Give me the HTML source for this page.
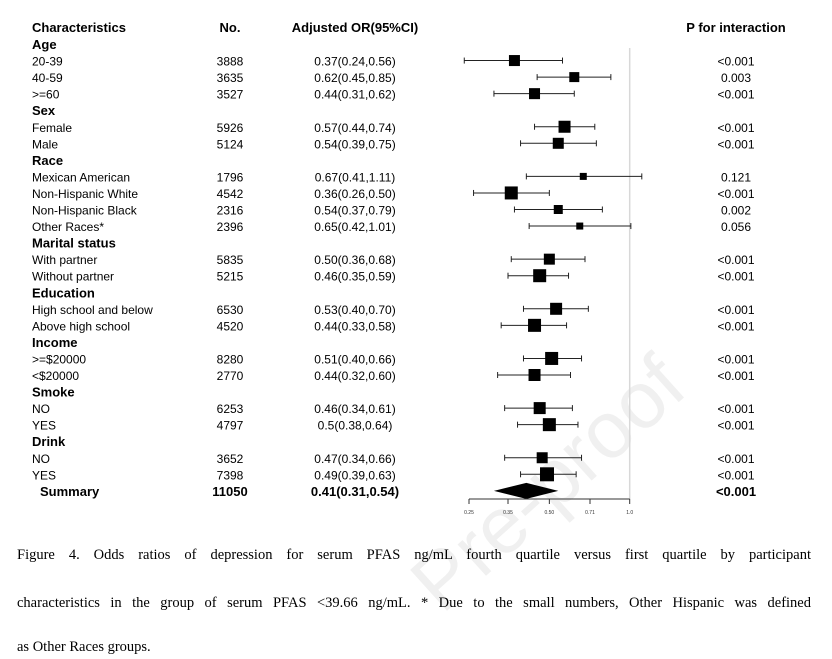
<!DOCTYPE html>
<html><head><meta charset="utf-8"><style>
html,body{margin:0;padding:0;background:#fff;overflow:hidden;}
#wrap{position:relative;width:832px;height:659px;overflow:hidden;}
svg{position:absolute;left:0;top:0;}
.cap{position:absolute;left:17px;width:794px;height:17px;line-height:17px;font-family:"Liberation Serif",serif;font-size:14.5px;color:#000;text-align:justify;text-align-last:justify;white-space:nowrap;overflow:hidden;}
</style></head><body>
<div id="wrap">
<svg id="chart" width="832" height="659" font-family="Liberation Sans, Arial, sans-serif">
  <text x="690" y="392" transform="rotate(-42 690 392)" text-anchor="end" font-size="80" fill="#f0f0f0">Pre-proof</text>
  <g id="hdr" font-weight="bold" font-size="13">
    <text x="32" y="32">Characteristics</text>
    <text x="230" y="32" text-anchor="middle">No.</text>
    <text x="355" y="32" text-anchor="middle">Adjusted OR(95%CI)</text>
    <text x="736" y="32" text-anchor="middle">P for interaction</text>
  </g>
  <line x1="629.7" y1="48" x2="629.7" y2="499" stroke="#d8d8d8" stroke-width="1.5"/>
  <g id="rows"></g>
  <g id="axis"></g>
</svg>
<div class="cap" style="top:547px">Figure 4. Odds ratios of depression for serum PFAS ng/mL fourth quartile versus first quartile by participant</div>
<div class="cap" style="top:595px">characteristics in the group of serum PFAS &lt;39.66 ng/mL. * Due to the small numbers, Other Hispanic was defined</div>
<div class="cap" style="top:639px;text-align-last:left">as Other Races groups.</div>
</div>
<script>
const labels = ["Age","20-39","40-59",">=60","Sex","Female","Male","Race","Mexican American","Non-Hispanic White","Non-Hispanic Black","Other Races*","Marital status","With partner","Without partner","Education","High school and below","Above high school","Income",">=$20000","<$20000","Smoke","NO","YES","Drink","NO","YES","Summary"];
const counts = [null,3888,3635,3527,null,5926,5124,null,1796,4542,2316,2396,null,5835,5215,null,6530,4520,null,8280,2770,null,6253,4797,null,3652,7398,11050];
const ors = [null,0.37,0.62,0.44,null,0.57,0.54,null,0.67,0.36,0.54,0.65,null,0.50,0.46,null,0.53,0.44,null,0.51,0.44,null,0.46,0.5,null,0.47,0.49,0.41];
const lows = [null,0.24,0.45,0.31,null,0.44,0.39,null,0.41,0.26,0.37,0.42,null,0.36,0.35,null,0.40,0.33,null,0.40,0.32,null,0.34,0.38,null,0.34,0.39,0.31];
const highs = [null,0.56,0.85,0.62,null,0.74,0.75,null,1.11,0.50,0.79,1.01,null,0.68,0.59,null,0.70,0.58,null,0.66,0.60,null,0.61,0.64,null,0.66,0.63,0.54];
const orText = [null,"0.37(0.24,0.56)","0.62(0.45,0.85)","0.44(0.31,0.62)",null,"0.57(0.44,0.74)","0.54(0.39,0.75)",null,"0.67(0.41,1.11)","0.36(0.26,0.50)","0.54(0.37,0.79)","0.65(0.42,1.01)",null,"0.50(0.36,0.68)","0.46(0.35,0.59)",null,"0.53(0.40,0.70)","0.44(0.33,0.58)",null,"0.51(0.40,0.66)","0.44(0.32,0.60)",null,"0.46(0.34,0.61)","0.5(0.38,0.64)",null,"0.47(0.34,0.66)","0.49(0.39,0.63)","0.41(0.31,0.54)"];
const pvals = [null,"<0.001","0.003","<0.001",null,"<0.001","<0.001",null,"0.121","<0.001","0.002","0.056",null,"<0.001","<0.001",null,"<0.001","<0.001",null,"<0.001","<0.001",null,"<0.001","<0.001",null,"<0.001","<0.001","<0.001"];
const weights = [null,11,10,11,null,12,11,null,7,13,9,7,null,11,13,null,12,13,null,13,12,null,12,13,null,11,14,null];
const tickValues = [0.25,0.35,0.50,0.71,1.0];
const tickLabels = ["0.25","0.35","0.50","0.71","1.0"];

const NS = "http://www.w3.org/2000/svg";
function xScale(v){ return 629.7 + 80.35 * Math.log2(v); }
function yRow(i){ return 44 + i * 16.55; }
function mk(tag, attrs, parent){
  const e = document.createElementNS(NS, tag);
  for (const k in attrs) e.setAttribute(k, attrs[k]);
  parent.appendChild(e); return e;
}
const rows = document.getElementById("rows");
labels.forEach((lab, i) => {
  const y = yRow(i);
  const isGroup = counts[i] === null;
  const isSum = lab === "Summary";
  const g = mk("g", {}, rows);
  
  
  const fs = isGroup || isSum ? 13 : 12;
  const fw = isGroup || isSum ? "bold" : "normal";
  const t = mk("text", {x: isSum ? 40 : 32, y: y + 5, "font-size": fs, "font-weight": fw}, g);
  t.textContent = lab;
  
  
  if (isGroup) return;
  const n = mk("text", {x: 230, y: y + 5, "text-anchor": "middle", "font-size": fs, "font-weight": fw}, g);
  n.textContent = counts[i];
  
  
  const o = mk("text", {x: 355, y: y + 5, "text-anchor": "middle", "font-size": fs, "font-weight": fw}, g);
  o.textContent = orText[i];
  
  
  const p = mk("text", {x: 736, y: y + 5, "text-anchor": "middle", "font-size": fs, "font-weight": fw}, g);
  p.textContent = pvals[i];
  
  
  const xl = xScale(lows[i]), xh = xScale(highs[i]), xm = xScale(ors[i]);
  if (isSum) {
    const d = mk("polygon", {points: `${xl},${y} ${xm},${y-8} ${xh},${y} ${xm},${y+8}`, fill: "#000"}, g);
    
    
    return;
  }
  const ln = mk("line", {x1: xl, y1: y, x2: xh, y2: y, stroke: "#222", "stroke-width": 1}, g);
  
  
  [xl, xh].forEach(xx => {
    const c = mk("line", {x1: xx, y1: y - 3, x2: xx, y2: y + 3, stroke: "#222", "stroke-width": 1}, g);
    
    
  });
  const s = weights[i];
  const sq = mk("rect", {x: xm - s / 2, y: y - s / 2, width: s, height: s, fill: "#000"}, g);
  
  
});
const axis = document.getElementById("axis");
const ay = 499;
const al = mk("line", {x1: xScale(tickValues[0]), y1: ay, x2: xScale(tickValues[tickValues.length-1]), y2: ay, stroke: "#333", "stroke-width": 1}, axis);


tickValues.forEach((v, k) => {
  const x = xScale(v);
  const tk = mk("line", {x1: x, y1: ay, x2: x, y2: ay + 5, stroke: "#333", "stroke-width": 1}, axis);
  
  
  const tl = mk("text", {x: x, y: ay + 15, "text-anchor": "middle", "font-size": 5, fill: "#333"}, axis);
  tl.textContent = tickLabels[k];
  
  
});
</script>
</body></html>
